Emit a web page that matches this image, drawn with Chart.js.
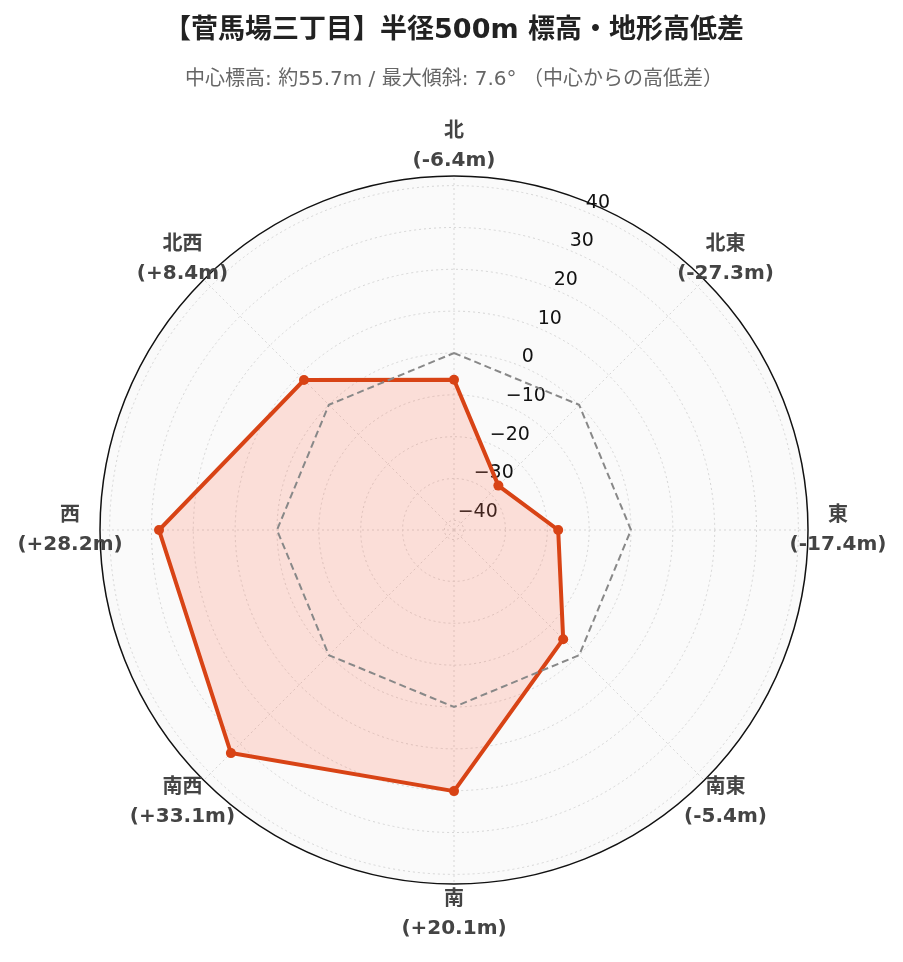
<!DOCTYPE html>
<html>
<head>
<meta charset="utf-8">
<script src="https://cdn.jsdelivr.net/npm/chart.js@4.4.0/dist/chart.umd.min.js"></script>
<style>
  html, body { margin: 0; background: #fff; }
  #wrap { width: 903px; height: 962px; }
</style>
</head>
<body>
<div id="wrap"><canvas id="terrainChart"></canvas></div>
<script>
const directions = ["北", "北東", "東", "南東", "南", "南西", "西", "北西"];
const heightDiffs = [-6.4, -27.3, -17.4, -5.4, 20.1, 33.1, 28.2, 8.4];
const zeroLine = [0, 0, 0, 0, 0, 0, 0, 0];
const tickValues = [-40, -30, -20, -10, 0, 10, 20, 30, 40];
const rMin = -42.3;
const rMax = 42.3;

const FONT = '"DejaVu Sans", "Noto Sans CJK JP", sans-serif';

const signed = (v) => (v > 0 ? "+" : "") + v.toFixed(1);
const tickText = (v) => (v < 0 ? "\u2212" + Math.abs(v) : String(v));

// tick labels along a tilted axis, direction labels, outer rim
const overlay = {
  id: "overlay",
  beforeDatasetsDraw(chart) {
    const scale = chart.scales.r;
    const ctx = chart.ctx;
    const cx = scale.xCenter;
    const cy = scale.yCenter;
    const R = scale.getDistanceFromCenterForValue(rMax);

    ctx.save();
    ctx.beginPath();
    ctx.arc(cx, cy, R, 0, Math.PI * 2);
    ctx.strokeStyle = "#111";
    ctx.lineWidth = 1.5;
    ctx.stroke();

    const a = (22.5 * Math.PI) / 180;
    ctx.font = "19px " + FONT;
    ctx.fillStyle = "#111";
    ctx.textAlign = "left";
    ctx.textBaseline = "middle";
    tickValues.forEach((v) => {
      const d = scale.getDistanceFromCenterForValue(v);
      ctx.fillText(tickText(v), cx + Math.sin(a) * d, cy - Math.cos(a) * d - 9);
    });

    ctx.font = "bold 20px " + FONT;
    ctx.fillStyle = "#444";
    ctx.textAlign = "center";
    directions.forEach((name, i) => {
      const p = scale.getPointPosition(i, R + 30);
      ctx.fillText(name, p.x, p.y - 14);
      ctx.fillText("(" + signed(heightDiffs[i]) + "m)", p.x, p.y + 15);
    });
    ctx.restore();
  },
};

new Chart(document.getElementById("terrainChart"), {
  type: "radar",
  data: {
    labels: directions,
    datasets: [
      {
        label: "基準 0m",
        data: zeroLine,
        borderColor: "#888",
        borderWidth: 2,
        borderDash: [7, 4],
        pointRadius: 0,
        fill: false,
      },
      {
        label: "高低差",
        data: heightDiffs,
        borderColor: "#d84315",
        backgroundColor: "rgba(255, 110, 80, 0.2)",
        borderWidth: 4,
        pointRadius: 5,
        pointBackgroundColor: "#d84315",
        pointBorderWidth: 0,
        fill: "start",
      },
    ],
  },
  options: {
    responsive: true,
    maintainAspectRatio: false,
    animation: false,
    layout: { padding: { left: 99, right: 94, top: 0, bottom: 77 } },
    plugins: {
      legend: { display: false },
      tooltip: { enabled: false },
      title: {
        display: true,
        text: "【菅馬場三丁目】半径500m 標高・地形高低差",
        color: "#222",
        font: { size: 27, weight: "bold", family: FONT },
        padding: { top: 15, bottom: 8 },
      },
      subtitle: {
        display: true,
        text: "中心標高: 約55.7m / 最大傾斜: 7.6° （中心からの高低差）",
        color: "#666",
        font: { size: 20, family: FONT },
        padding: { top: 12, bottom: 84 },
      },
    },
    scales: {
      r: {
        min: rMin,
        max: rMax,
        startAngle: 0,
        backgroundColor: "#fafafa",
        afterBuildTicks: (scale) => {
          scale.ticks = tickValues.map((v) => ({ value: v }));
        },
        ticks: { display: false },
        grid: { circular: true, color: "#d6d6d6", lineWidth: 1 },
        border: { dash: [2, 3] },
        angleLines: { color: "#d6d6d6", lineWidth: 1, borderDash: [2, 3] },
        pointLabels: { display: false },
      },
    },
  },
  plugins: [overlay],
});
</script>
</body>
</html>
